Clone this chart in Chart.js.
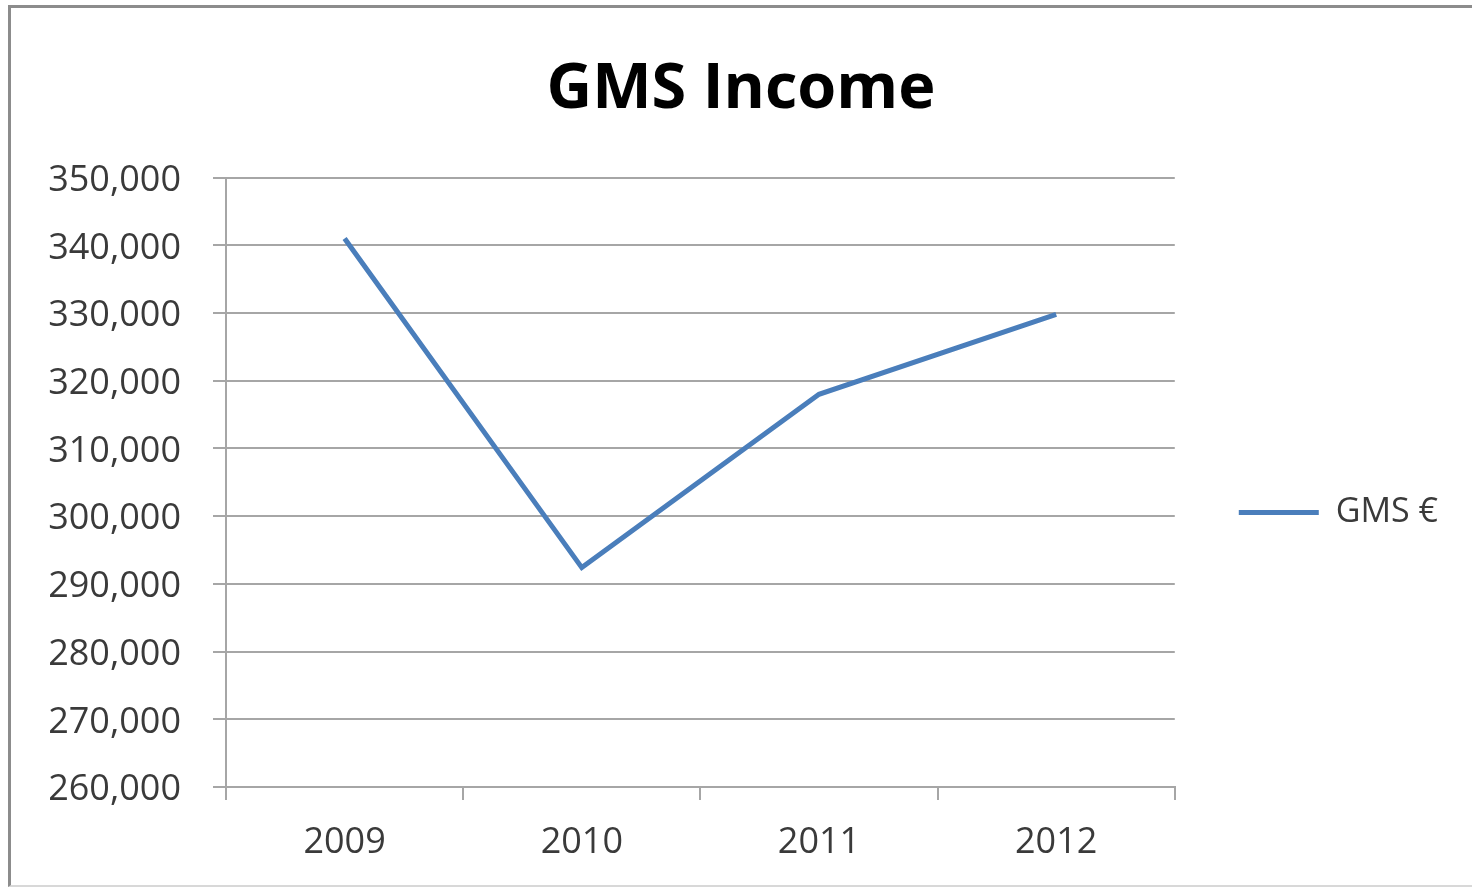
<!DOCTYPE html>
<html>
<head>
<meta charset="utf-8">
<script src="https://cdn.jsdelivr.net/npm/chart.js@4.4.1/dist/chart.umd.min.js"></script>
<style>
  html, body { margin: 0; padding: 0; background: #fff; overflow: hidden; }
  #wrap { position: relative; width: 1472px; height: 887px; }
  #frame {
    position: absolute; left: 8px; top: 5px; width: 1480px; height: 877px;
    border: 3px solid #8c8c8c; border-bottom-color: #d8d8d8; border-bottom-width: 2px;
    pointer-events: none;
  }
  canvas { position: absolute; left: 0; top: 0; }
</style>
</head>
<body>
<div id="wrap">
  <canvas id="gmsChart" width="1472" height="887"></canvas>
  <div id="frame"></div>
</div>
<script>
// data
const years = ["2009", "2010", "2011", "2012"];
const gmsIncome = [341000, 292400, 318000, 329800];
const yMin = 260000;
const yMax = 350000;
const yStep = 10000;

const gridGrey = "#a6a6a6";
const tickText = "#3a3a3a";
const lineBlue = "#4a7ebb";

const ctx = document.getElementById("gmsChart").getContext("2d");
const gmsChart = new Chart(ctx, {
  type: "line",
  data: {
    labels: years,
    datasets: [{
      label: "GMS €",
      data: gmsIncome,
      borderColor: lineBlue,
      backgroundColor: lineBlue,
      borderWidth: 5,
      pointRadius: 0,
      tension: 0,
      fill: false
    }]
  },
  options: {
    responsive: false,
    animation: false,
    devicePixelRatio: 1,
    layout: {
      padding: { left: 34, top: 6, right: 24, bottom: 0 }
    },
    plugins: {
      title: {
        display: true,
        text: "GMS Income",
        color: "#000",
        font: { family: "Open Sans", size: 63, weight: "bold" },
        padding: { top: 46, bottom: 50 }
      },
      legend: {
        position: "right",
        // empty legend title only pushes the entry down to where the reference has it
        title: {
          display: true,
          text: " ",
          font: { size: 10 },
          padding: { top: 60, bottom: 60 }
        },
        labels: {
          usePointStyle: true,
          pointStyle: "line",
          pointStyleWidth: 80,
          padding: 64,
          color: tickText,
          font: { family: "Open Sans", size: 34 }
        }
      },
      tooltip: { enabled: false }
    },
    scales: {
      x: {
        offset: true,
        grid: {
          offset: true,
          drawOnChartArea: false,
          drawTicks: true,
          tickLength: 13,
          color: gridGrey,
          lineWidth: 2
        },
        border: { display: true, color: gridGrey, width: 2 },
        ticks: {
          padding: 21,
          color: tickText,
          font: { family: "Open Sans", size: 36 }
        },
        afterFit: function (scale) { scale.height = 100; }
      },
      y: {
        min: yMin,
        max: yMax,
        grid: {
          color: gridGrey,
          lineWidth: 2,
          tickLength: 13
        },
        border: { display: true, color: gridGrey, width: 2 },
        ticks: {
          stepSize: yStep,
          padding: 32,
          labelOffset: 3,
          color: tickText,
          font: { family: "Open Sans", size: 36 },
          callback: function (value) {
            return value.toLocaleString("en-US");
          }
        },
        afterFit: function (scale) { scale.width = 192; }
      }
    }
  }
});
</script>
</body>
</html>
